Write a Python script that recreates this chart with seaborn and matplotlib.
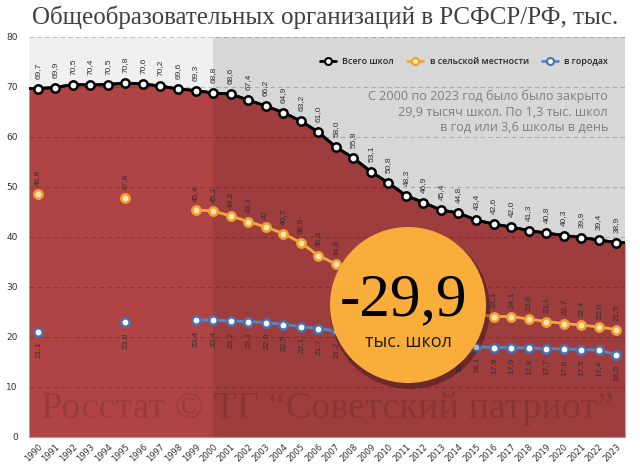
import numpy as np
import pandas as pd
import matplotlib
matplotlib.use('Agg')
import matplotlib.pyplot as plt
import seaborn as sns
from matplotlib.patches import Ellipse
from matplotlib.lines import Line2D

nan = np.nan

# Data (thousands of schools)
years = list(range(1990, 2024))
total = [69.7, 69.9, 70.5, 70.4, 70.5, 70.8, 70.6, 70.2, 69.6, 69.3,
         68.8, 68.6, 67.4, 66.2, 64.9, 63.2, 61.0, 58.0, 55.8, 53.1,
         50.8, 48.3, 46.9, 45.4, 44.8, 43.4, 42.6, 42.0, 41.3, 40.8,
         40.3, 39.9, 39.4, 38.9]
rural = [48.6, nan, nan, nan, nan, 47.8, nan, nan, nan, 45.4,
         45.2, 44.2, 43.1, 42.0, 40.7, 38.9, 36.3, 34.6, 32.8, 31.0,
         29.4, 28.0, 26.9, 26.0, 25.2, 24.6, 24.1, 24.1, 23.6, 23.1,
         22.7, 22.4, 22.0, 21.5]
urban = [21.1, nan, nan, nan, nan, 23.0, nan, nan, nan, 23.4,
         23.4, 23.2, 23.1, 22.9, 22.5, 22.1, 21.7, 21.2, 20.8, 20.3,
         19.8, 19.3, 18.9, 18.6, 18.3, 18.1, 17.9, 17.9, 17.8, 17.7,
         17.6, 17.5, 17.4, 16.5]
series_names = ['Всего школ', 'в сельской местности', 'в городах']
label_override = {(1, 2003): '42'}  # the source shows this one without decimals

sns.set_style('white')
plt.rcParams['font.family'] = ['DejaVu Sans']

fig = plt.figure(figsize=(6.4, 4.7), dpi=100)
ax = fig.add_axes([29 / 640, 33 / 470, 596 / 640, 400 / 470])
ax.set_facecolor('#F0F0F0')

x0, x1 = years[0] - 0.5, years[-1] + 0.5

# red area under total line, stretched to the plot edges
ext_x = [x0] + years + [x1]
ext_y = [total[0]] + total + [total[-1]]
ax.fill_between(ext_x, ext_y, color='#B04444', lw=0, zorder=1)
ax.plot(ext_x, ext_y, color='black', lw=2, zorder=4)
ax.axvspan(2000, x1, color='black', alpha=0.1, lw=0, zorder=2)

styles = [
    (total, 'black', 'black', 'white', 7, 1),
    (rural, '#F5A83A', '#F0A030', '#FFE6B0', 6, 1),
    (urban, '#5B84C4', '#4A70B0', 'white', 7.5, -1),
]
for i, (vals, lc, ec, fc, off, side) in enumerate(styles):
    d = pd.DataFrame({'year': years, 'v': vals})
    d['seg'] = d['v'].isna().cumsum()
    d = d.dropna()
    sns.lineplot(data=d, x='year', y='v', units='seg', estimator=None,
                 color=lc, lw=2, marker='o', markersize=6,
                 markerfacecolor=fc, markeredgecolor=ec, markeredgewidth=1.8,
                 ax=ax, zorder=5 + i)
    for yr, v in zip(d['year'], d['v']):
        txt = label_override.get((i, yr), f'{v:.1f}'.replace('.', ','))
        ax.annotate(txt, (yr, v), xytext=(0, off * side),
                    textcoords='offset points', rotation=90, ha='center',
                    va='bottom' if side > 0 else 'top', fontsize=6,
                    family='Liberation Sans', color='#303030', zorder=8)

ax.set_xlim(x0, x1)
ax.set_ylim(0, 80)
ax.set_xlabel('')
ax.set_ylabel('')
ax.set_yticks(range(0, 81, 10))
ax.set_axisbelow(False)
ax.yaxis.grid(True, ls=(0, (4, 3)), color='black', alpha=0.2, lw=0.8)
ax.set_xticks(years)
ax.set_xticklabels([str(y) for y in years], rotation=45, ha='right',
                   rotation_mode='anchor', fontsize=6, color='#303030')
ax.set_xticks(np.arange(x0, x1 + 0.1, 1), minor=True)
ax.tick_params(axis='x', which='major', length=0, pad=4)
ax.tick_params(axis='x', which='minor', length=3, color='#909090', width=0.8)
ax.tick_params(axis='y', length=0, labelsize=6.5, labelcolor='#303030', pad=8)
for s in ['top', 'right', 'left']:
    ax.spines[s].set_visible(False)
ax.spines['bottom'].set_color('#A0A0A0')

handles = [Line2D([], [], color=lc, lw=2, marker='o', ms=5, mfc=fc, mec=ec, mew=1.5)
           for (_, lc, ec, fc, _, _) in styles]
ax.legend(handles, series_names, ncol=3, loc='center right',
          bbox_to_anchor=(0.985, 0.9375), frameon=False,
          handlelength=1.8, handletextpad=0.7, columnspacing=1.5,
          prop={'family': 'Open Sans', 'weight': 'semibold', 'size': 6.4})

fig.text(608 / 640, 1 - 90 / 470,
         'С 2000 по 2023 год было было закрыто\n29,9 тысяч школ. По 1,3 тыс. школ\nв год или 3,6 школы в день',
         ha='right', va='top', fontsize=9.1, color='#7F7F7F', family='Open Sans',
         linespacing=1.25)

fig.text(325 / 640, 1 - 17 / 470, 'Общеобразовательных организаций в РСФСР/РФ, тыс.',
         ha='center', va='center', fontsize=18, color='#404040', family='Liberation Serif')

fig.text(328 / 640, 1 - 409 / 470, 'Росстат © ТГ “Советский патриот”',
         ha='center', va='center', fontsize=27.5, color='black', alpha=0.12,
         family='Liberation Serif', zorder=3)

# badge circle
cx, cy, r = 408 / 640, 1 - 305 / 470, 78
fig.add_artist(Ellipse((cx + 2 / 640, cy - 4 / 470), 2 * (r + 2) / 640, 2 * (r + 2) / 470,
                       transform=fig.transFigure, color='black', alpha=0.3, lw=0, zorder=10))
fig.add_artist(Ellipse((cx, cy), 2 * r / 640, 2 * r / 470, transform=fig.transFigure,
                       color='#F9AE3C', lw=0, zorder=11))
fig.text(404 / 640, 1 - 300 / 470, '-29,9', ha='center', va='center', fontsize=44,
         family='Liberation Serif', color='black', zorder=12)
fig.text(408 / 640, 1 - 342 / 470, 'тыс. школ', ha='center', va='center', fontsize=13,
         family='Open Sans', color='#1A1A1A', zorder=12)

fig.savefig('out.png', dpi=100)
